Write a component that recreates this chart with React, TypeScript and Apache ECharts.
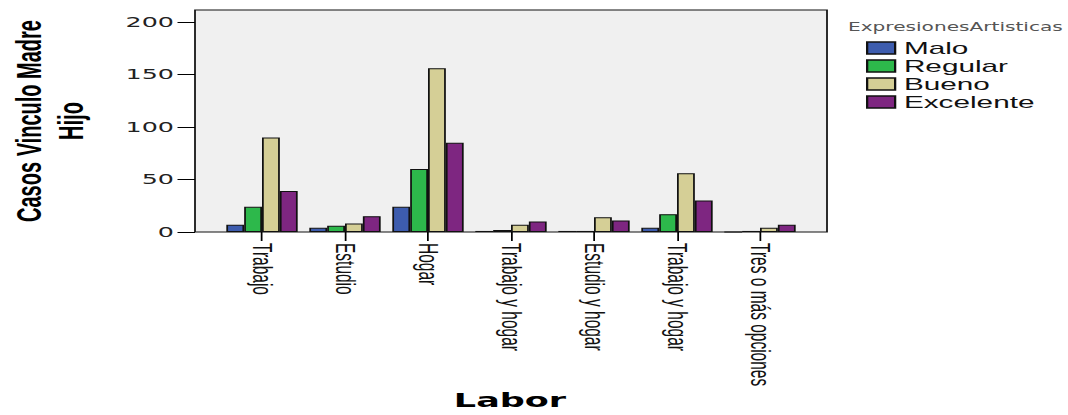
import React, { useEffect, useRef } from "react";
import * as echarts from "echarts";

const categories = [
  "Trabajo",
  "Estudio",
  "Hogar",
  "Trabajo y hogar",
  "Estudio y hogar",
  "Trabajo y hogar",
  "Tres o más opciones",
];
const seriesNames = ["Malo", "Regular", "Bueno", "Excelente"];
const malo = [7, 4, 24, 1, 1, 4, 0];
const regular = [24, 6, 60, 2, 1, 17, 1];
const bueno = [90, 8, 156, 7, 14, 56, 4];
const excelente = [39, 15, 85, 10, 11, 30, 7];
const colors = ["#3d5cae", "#2db84b", "#d5cf96", "#7e2681"];

// horizontal stretch of the original picture
const S = 1.75;
const W = Math.floor(1068 / S);
const H = 415;
const fx = (v: number) => v / S; // final px -> internal px

export default function App() {
  const ref = useRef<HTMLDivElement>(null);
  useEffect(() => {
    if (!ref.current) return;
    const chart = echarts.init(ref.current, null, { renderer: "svg" });
    const values = [malo, regular, bueno, excelente];
    const boxL = fx(195);
    const boxR = fx(827);
    const gridL = fx(262 - 41.5);
    const gridR = fx(760 + 41.5);
    chart.setOption({
      animation: false,
      backgroundColor: "#ffffff",
      grid: {
        left: gridL,
        right: W - gridR,
        top: 22,
        bottom: H - 232,
        containLabel: false,
      },
      legend: {
        orient: "vertical",
        left: fx(866),
        top: 39,
        padding: 0,
        icon: "rect",
        itemWidth: 16,
        itemHeight: 12,
        itemGap: 0,
        data: seriesNames,
        itemStyle: { borderColor: "#111", borderWidth: 1.3 },
        textStyle: {
          fontFamily: "'Liberation Sans', Arial, sans-serif",
          fontSize: 17,
          color: "#111",
          lineHeight: 18,
        },
      },
      xAxis: {
        type: "category",
        data: categories,
        axisLine: { show: false },
        axisTick: {
          show: true,
          alignWithLabel: true,
          length: 9,
          lineStyle: { color: "#000", width: 1 },
        },
        axisLabel: {
          rotate: -90,
          margin: 11,
          interval: 0,
          fontFamily: "'Liberation Sans', Arial, sans-serif",
          fontSize: 15.5,
          color: "#111",
        },
      },
      yAxis: {
        type: "value",
        min: 0,
        max: 200,
        interval: 50,
        offset: gridL - boxL,
        axisLine: { show: false },
        splitLine: { show: false },
        axisTick: {
          show: true,
          length: 10,
          lineStyle: { color: "#000", width: 1 },
        },
        axisLabel: {
          margin: 12,
          fontFamily: "'DejaVu Sans', sans-serif",
          fontSize: 14.5,
          color: "#222",
        },
      },
      graphic: [
        {
          type: "rect",
          z: -1,
          silent: true,
          shape: { x: boxL, y: 10, width: boxR - boxL, height: 222 },
          style: { fill: "#f0f0f0", stroke: "#111", lineWidth: 1 },
        },
        {
          type: "text",
          x: fx(848),
          y: 27,
          style: {
            text: "ExpresionesArtisticas",
            fontFamily: "'DejaVu Sans', sans-serif",
            fontSize: 11.5,
            fill: "#555",
            align: "left",
            verticalAlign: "middle",
          },
        },
        {
          type: "text",
          x: fx(50),
          y: 121,
          rotation: Math.PI / 2,
          style: {
            text: "Casos Vinculo Madre\nHijo",
            fontFamily: "'Liberation Sans', Arial, sans-serif",
            fontWeight: "bold",
            fontSize: 20,
            lineHeight: 24,
            fill: "#000",
            align: "center",
            verticalAlign: "middle",
          },
        },
        {
          type: "text",
          x: fx(510),
          y: 400,
          style: {
            text: "Labor",
            fontFamily: "'DejaVu Sans', sans-serif",
            fontWeight: "bold",
            fontSize: 20,
            fill: "#000",
            align: "center",
            verticalAlign: "middle",
          },
        },
      ],
      series: seriesNames.map((name, i) => ({
        name,
        type: "bar",
        data: values[i],
        barGap: "0%",
        barCategoryGap: "14%",
        itemStyle: { color: colors[i], borderColor: "#111", borderWidth: 1 },
      })),
    });
    return () => chart.dispose();
  }, []);
  return (
    <div
      style={{
        position: "absolute",
        left: 0,
        top: 0,
        width: W,
        height: H,
        transform: `scaleX(${S})`,
        transformOrigin: "0 0",
      }}
    >
      <div ref={ref} style={{ width: W, height: H }} />
    </div>
  );
}
